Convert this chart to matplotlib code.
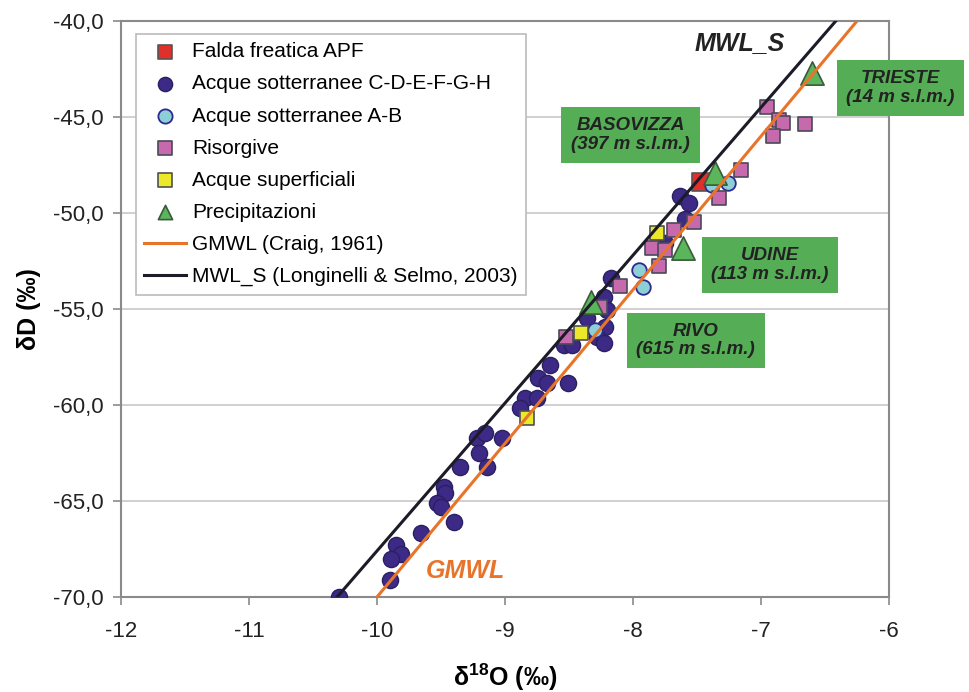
import numpy as np
import matplotlib
matplotlib.use("Agg")
import matplotlib.pyplot as plt
from matplotlib.ticker import FuncFormatter

plt.rcParams['font.family'] = ['Liberation Sans', 'DejaVu Sans']
plt.rcParams['axes.unicode_minus'] = False
plt.rcParams['mathtext.fontset'] = 'custom'
plt.rcParams['mathtext.rm'] = 'Liberation Sans'
plt.rcParams['mathtext.bf'] = 'Liberation Sans:bold'

# data (d18O, dD)
falda_x = [-7.47]
falda_y = [-48.4]

sott_cdefgh_x = [-7.63, -7.56, -7.59, -7.75, -8.17, -8.23, -8.20, -8.36, -8.22, -8.28,
                 -8.23, -8.54, -8.48, -8.65, -8.74, -8.67, -8.51, -8.84, -8.75, -8.88,
                 -9.22, -9.16, -9.02, -9.20, -9.14, -9.35, -9.48, -9.47, -9.53, -9.50,
                 -9.40, -9.66, -9.85, -9.81, -9.89, -9.90, -10.30]
sott_cdefgh_y = [-49.10, -49.50, -50.33, -51.58, -53.40, -54.36, -55.05, -55.49, -55.92, -56.44,
                 -56.79, -56.88, -56.88, -57.92, -58.61, -58.87, -58.87, -59.65, -59.65, -60.17,
                 -61.73, -61.47, -61.70, -62.52, -63.25, -63.21, -64.26, -64.60, -65.12, -65.33,
                 -66.08, -66.68, -67.29, -67.76, -68.04, -69.11, -70.0]

sott_ab_x = [-7.38, -7.26, -7.95, -7.92, -8.30]
sott_ab_y = [-48.54, -48.42, -52.97, -53.87, -56.09]

risorgive_x = [-6.95, -6.86, -6.83, -6.66, -6.91, -7.16, -7.33, -7.52, -7.68, -7.85,
               -7.75, -7.80, -8.10, -8.26, -8.52]
risorgive_y = [-44.46, -45.16, -45.30, -45.36, -45.99, -47.76, -49.24, -50.45, -50.89, -51.84,
               -51.93, -52.76, -53.78, -54.88, -56.47]

superf_x = [-7.81, -8.41, -8.83]
superf_y = [-51.03, -56.23, -60.69]

stazioni = ['TRIESTE', 'BASOVIZZA', 'UDINE', 'RIVO']
quote = [14, 397, 113, 615]
prec_x = [-6.60, -7.36, -7.61, -8.33]
prec_y = [-42.69, -47.93, -51.84, -54.62]
# label box centres (d18O, dD)
label_x = [-5.91, -8.02, -6.93, -7.51]
label_y = [-43.49, -45.94, -52.71, -56.64]

# meteoric water lines: dD = a * d18O + b
gmwl = (8.0, 10.0)
mwl_s = (7.7, 9.4)

fig = plt.figure(figsize=(9.69, 6.92), dpi=100)
ax = fig.add_axes([121/969, 1 - 597/692, 768/969, 576/692])

ax.set_xlim(-12, -6)
ax.set_ylim(-70, -40)
ax.yaxis.grid(True, color='#c8c8c8', lw=1.2)
ax.set_axisbelow(True)

ax.scatter(falda_x, falda_y, marker='s', s=150, c='#e0302c', edgecolors='#555555',
           linewidths=1.2, zorder=3, label='Falda freatica APF')
ax.scatter(sott_cdefgh_x, sott_cdefgh_y, marker='o', s=135, c='#3d2a86', edgecolors='#2a2060',
           linewidths=1, zorder=3, label='Acque sotterranee C-D-E-F-G-H')
ax.scatter(sott_ab_x, sott_ab_y, marker='o', s=110, c='#8ccfd6', edgecolors='#2d2a8f',
           linewidths=1.3, zorder=3, label='Acque sotterranee A-B')
ax.scatter(risorgive_x, risorgive_y, marker='s', s=115, c='#c66aad', edgecolors='#4a4a5a',
           linewidths=1.2, zorder=3, label='Risorgive')
ax.scatter(superf_x, superf_y, marker='s', s=115, c='#ece82a', edgecolors='#505050',
           linewidths=1.2, zorder=3, label='Acque superficiali')
ax.scatter(prec_x, prec_y, marker='^', s=280, c='#5bb55b', edgecolors='#3a5a3a',
           linewidths=1.2, zorder=3, label='Precipitazioni')

yl = np.array([-70, -40])
ax.plot((yl - gmwl[1]) / gmwl[0], yl, color='#e8742a', lw=2.2, zorder=4,
        label='GMWL (Craig, 1961)')
ax.plot((yl - mwl_s[1]) / mwl_s[0], yl, color='#1c1c28', lw=2.2, zorder=4,
        label='MWL_S (Longinelli & Selmo, 2003)')

for name, q, lx, ly in zip(stazioni, quote, label_x, label_y):
    ax.text(lx, ly, f'{name}\n({q} m s.l.m.)', ha='center', va='center',
            fontsize=13.5, fontweight='bold', fontstyle='italic', color='#222222',
            linespacing=1.15, zorder=6, clip_on=False,
            bbox=dict(boxstyle='square,pad=0.52', fc='#55ad55', ec='none'))

ax.text(-7.17, -41.15, 'MWL_S', ha='center', va='center', fontsize=18,
        fontweight='bold', fontstyle='italic', color='#222222')
ax.text(-9.31, -68.67, 'GMWL', ha='center', va='center', fontsize=18,
        fontweight='bold', fontstyle='italic', color='#e8742a')

ax.set_xticks(np.arange(-12, -5, 1))
ax.set_yticks(np.arange(-70, -39, 5))
ax.yaxis.set_major_formatter(FuncFormatter(lambda v, p: f'{v:.1f}'.replace('.', ',')))
ax.tick_params(labelsize=16, colors='#8a8a8a', labelcolor='#222222', length=5.5, width=1.2)
ax.tick_params(axis='x', pad=12)
ax.tick_params(axis='y', pad=7)
for sp in ax.spines.values():
    sp.set_color('#8a8a8a')
    sp.set_linewidth(1.5)

ax.set_xlabel(r'δ$^{\mathbf{18}}$O (‰)', fontsize=18, fontweight='bold', labelpad=14)
ax.set_ylabel('δD (‰)', fontsize=18, fontweight='bold', labelpad=9)

leg = ax.legend(loc='upper left', bbox_to_anchor=(136/969, 1 - 34/692),
                bbox_transform=fig.transFigure, borderaxespad=0, fontsize=15,
                fancybox=False, edgecolor='#bbbbbb', framealpha=1, handlelength=2.0,
                handletextpad=0.3, labelspacing=0.63, borderpad=0.4)
leg.get_frame().set_linewidth(1.2)
leg.set_zorder(5)
for h in leg.legend_handles[:6]:
    h.set_sizes([105])

plt.savefig('out.png', dpi=100)
